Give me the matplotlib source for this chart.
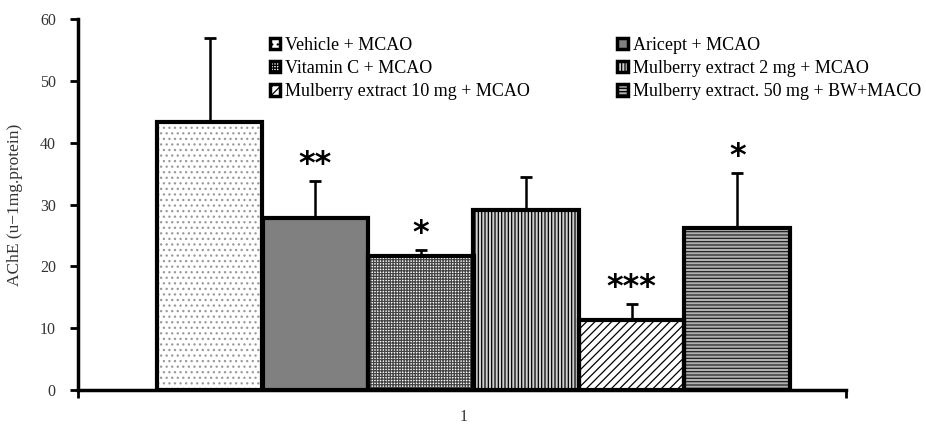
import matplotlib
matplotlib.use("Agg")
import matplotlib.pyplot as plt
import numpy as np
from matplotlib.patches import Patch

groups = ["Vehicle + MCAO", "Aricept + MCAO", "Vitamin C + MCAO",
          "Mulberry extract 2 mg + MCAO", "Mulberry extract 10 mg + MCAO",
          "Mulberry extract. 50 mg + BW+MACO"]
means = [43.3, 27.8, 21.7, 29.1, 11.3, 26.2]
errors = [13.6, 6.0, 0.9, 5.3, 2.6, 8.9]
stars = ["", "**", "*", "", "***", "*"]
category = "1"
yticks = [0, 10, 20, 30, 40, 50, 60]

faces = ["white", "#808080", "white", "#d0d0d0", "white", "#b0b0b0"]
hatches = ["...", "", "++++++", "|||||", "////", "-----"]
hcolors = ["#999999", "#808080", "#444444", "black", "black", "#222222"]

plt.rcParams['hatch.linewidth'] = 0.9
serif = ['Liberation Serif', 'DejaVu Serif']

fig = plt.figure(figsize=(9.26, 4.28), dpi=100)
ax = fig.add_axes([78/926, 38/428, (846-78)/926, (390-19)/428])

w = 1/6
n = len(means)
xs = 1 + (np.arange(n) - (n-1)/2) * w

for i in range(n):
    ax.bar(xs[i], means[i], width=w, color=faces[i], hatch=hatches[i],
           edgecolor=hcolors[i], linewidth=0, zorder=2)
for i in range(n):
    ax.bar(xs[i], means[i], width=w, facecolor='none', edgecolor='black',
           linewidth=3, zorder=3)

ax.errorbar(xs, means, yerr=[np.zeros(n), errors], fmt='none', ecolor='black',
            elinewidth=1.8, capsize=4, capthick=2, zorder=1)

for i in range(n):
    if stars[i]:
        ax.annotate(stars[i], (xs[i], means[i] + errors[i]), xytext=(0, 1),
                    textcoords='offset points', ha='center', va='bottom',
                    fontsize=23, family='DejaVu Sans', fontweight='bold')

leg_handles = [Patch(facecolor=faces[i], hatch=hatches[i], edgecolor='black',
                     linewidth=2.5) for i in range(n)]
order = [0, 2, 4, 1, 3, 5]
ax.legend([leg_handles[j] for j in order], [groups[j] for j in order], ncol=2,
          loc='upper left', bbox_to_anchor=(0.24, 0.972), frameon=False,
          prop={'family': serif, 'size': 13}, handlelength=0.6, handleheight=0.6,
          handletextpad=0.25, columnspacing=4.85, labelspacing=0.35,
          borderaxespad=0.0)

left = 1 - (473.5-78)/633
right = 1 + (846-473.5)/633
ax.set_xlim(left, right)
ax.set_ylim(0, 60)
ax.set_yticks(yticks)
ax.set_yticklabels([str(t) for t in yticks], family=serif, fontsize=11.5, color='#333333')
ax.set_xticks([0.985])
ax.set_xticklabels([category], family=serif, fontsize=11.5, color='#333333')
ax.tick_params(axis='x', length=0, pad=14)
ax.set_xticks([left, right], minor=True)
ax.tick_params(axis='x', which='minor', length=6, width=2, direction='out')
ax.tick_params(axis='y', length=6, width=2, direction='out', pad=10)
ax.set_ylabel("AChE (u\u22121mg.protein)", family=serif, fontsize=12.5, color='#333333', labelpad=12)

for s in ['top', 'right']:
    ax.spines[s].set_visible(False)
for s in ['left', 'bottom']:
    ax.spines[s].set_linewidth(2.5)

fig.savefig("out.png", dpi=100)
